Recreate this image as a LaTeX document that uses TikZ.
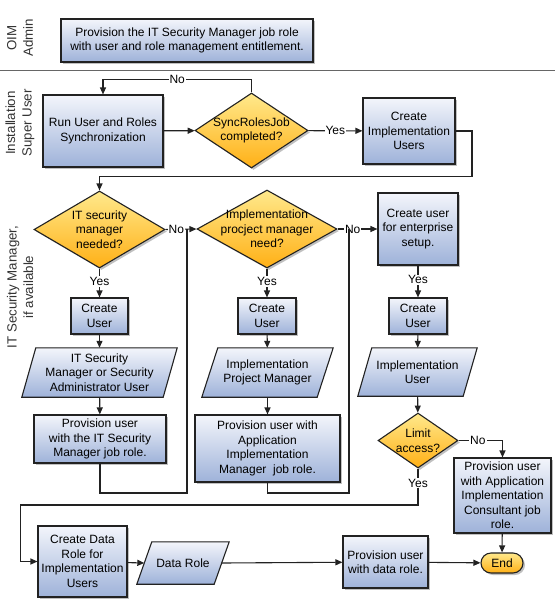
\documentclass[tikz,border=0pt]{standalone}
\usepackage{fontspec}
\setmainfont{Liberation Sans}
\usepackage{xcolor}
\usepackage{tikz}
\usetikzlibrary{arrows.meta,shapes.geometric,shadows,backgrounds}

\definecolor{boxtop}{RGB}{243,245,251}
\definecolor{boxbot}{RGB}{158,178,217}
\definecolor{diatop}{RGB}{255,233,140}
\definecolor{diabot}{RGB}{255,176,22}
\definecolor{ink}{RGB}{34,34,34}

% slanted data box behind a named node: #1 node, #2 slant
\newcommand\ioshape[2]{%
  \fill[black!55,opacity=.45,shift={(2,2)}] ([xshift=#2]#1.north west) -- (#1.north east)
    -- ([xshift=-#2]#1.south east) -- (#1.south west) -- cycle;
  \draw[ink,line width=1.1pt,top color=boxtop,bottom color=boxbot] ([xshift=#2]#1.north west)
    -- (#1.north east) -- ([xshift=-#2]#1.south east) -- (#1.south west) -- cycle;}

\begin{document}
\begin{tikzpicture}[x=1pt,y=-1pt,>={Triangle[length=7pt,width=6pt]},
  font=\fontsize{12}{14.5}\selectfont,
  conn/.style={draw=ink,line width=1.1pt},
  arr/.style={conn,->},
  shadowed/.style={drop shadow={shadow xshift=2pt,shadow yshift=-2pt,opacity=.45,fill=black!55}},
  task/.style={rectangle,draw=ink,line width=1.1pt,top color=boxtop,bottom color=boxbot,
               align=center,inner sep=0pt,shadowed},
  iobox/.style={rectangle,align=center,inner sep=0pt},
  decide/.style={diamond,draw=ink,line width=1.1pt,top color=diatop,bottom color=diabot,inner sep=0pt,shadowed},
  endbox/.style={rectangle,rounded corners=10pt,draw=ink,line width=1.1pt,top color=diatop,bottom color=diabot,
                 inner sep=0pt,shadowed},
  yn/.style={fill=white,inner sep=1pt},
  lane/.style={rotate=90,align=center,font=\fontsize{13.3}{16.5}\selectfont,text=black!80}]
  \useasboundingbox (0,0) rectangle (555,603);

  % swimlanes
  \node[lane] (laneA) at (20,38) {OIM\\Admin};
  \node[lane] (laneB) at (20,123) {Installation\\Super User};
  \node[lane] (laneC) at (20,287) {IT Security Manager,\\if available};
  \draw[black!60,line width=1pt] (0,70.5) -- (555,70.5);

  \node[task,minimum width=252,minimum height=43] (oim) at (187,40.5)
    {Provision the IT Security Manager job role\\with user and role management entitlement.};

  \node[task,minimum width=120,minimum height=72] (sync) at (103,131) {Run User and Roles\\Synchronization};
  \node[decide,minimum width=113,minimum height=75,label={[align=center]center:SyncRolesJob\\completed?}]
    (syncq) at (251.5,130.5) {};
  \node[task,minimum width=92,minimum height=66] (impl) at (409,131) {Create\\Implementation\\Users};

  % left column
  \node[decide,minimum width=131,minimum height=77,label={[align=center]center:IT security\\manager\\needed?}]
    (itq) at (99.5,229.5) {};
  \node[task,minimum width=57,minimum height=36] (user1) at (99.5,316) {Create\\User};
  \node[iobox,minimum width=155,minimum height=49] (itmgr) at (99.5,372.5)
    {IT Security\\Manager or Security\\Administrator User};
  \node[task,minimum width=132,minimum height=48] (provit) at (100,439)
    {Provision user\\with the IT Security\\Manager job role.};

  % middle column
  \node[decide,minimum width=140,minimum height=78,label={[align=center]center:Implementation\\procject manager\\need?}]
    (pmq) at (267,229) {};
  \node[task,minimum width=58,minimum height=36] (user2) at (267,316) {Create\\User};
  \node[iobox,minimum width=131,minimum height=49] (projmgr) at (267.5,372.5) {Implementation\\Project Manager};
  \node[task,minimum width=145,minimum height=67] (provmgr) at (267.5,448.5)
    {Provision user with\\Application\\Implementation\\Manager\ \ job role.};

  % right column
  \node[task,minimum width=80,minimum height=72] (ent) at (418,229) {Create user\\for enterprise\\setup.};
  \node[task,minimum width=58,minimum height=36] (user3) at (418,316) {Create\\User};
  \node[iobox,minimum width=119,minimum height=48] (impluser) at (417.5,372) {Implementation\\User};
  \node[decide,minimum width=80,minimum height=55,label={[align=center]center:Limit\\access?}]
    (limq) at (418,440.5) {};
  \node[task,minimum width=97,minimum height=75] (cons) at (502.5,495.5)
    {Provision user\\with Application\\Implementation\\Consultant job\\role.};

  % bottom row
  \node[task,minimum width=89,minimum height=71] (drole) at (82.5,561.5)
    {Create Data\\Role for\\Implementation\\Users};
  \node[iobox,minimum width=92,minimum height=42] (dr) at (183,563) {Data Role};
  \node[task,minimum width=85,minimum height=52] (provdr) at (385.5,562) {Provision user\\with data role.};
  \node[endbox,minimum width=42,minimum height=20] (end) at (502,563) {End};

  \begin{scope}[on background layer]
    \ioshape{itmgr}{14pt}
    \ioshape{projmgr}{16pt}
    \ioshape{impluser}{14pt}
    \ioshape{dr}{15pt}
  \end{scope}

  \coordinate (c1) at (472,176.5);
  \coordinate (c2) at (187,493);
  \coordinate (c3) at (349,493);
  \coordinate (c4) at (20.5,505);

  \draw[arr] (sync) -- (syncq);
  \draw[arr] (syncq.north) -- (syncq.north |- 0,79.5) -| node[pos=.25,yn] {No} (sync.north);
  \draw[arr] (syncq) -- node[yn] {Yes} (impl);
  \draw[arr] (impl.east) -| (c1) -| (itq.north);

  \draw[arr] (itq) -- node[yn,pos=.45] {Yes} (user1);
  \draw[arr] (user1) -- (itmgr);
  \draw[arr] (itmgr) -- (provit);
  \draw[arr] (itq.east) -- node[yn,pos=.35] {No} (pmq.west);
  \draw[conn] (provit.south) |- (c2) -- (c2 |- pmq.west);

  \draw[arr] (pmq) -- node[yn,pos=.45] {Yes} (user2);
  \draw[arr] (user2) -- (projmgr);
  \draw[arr] (projmgr) -- (provmgr);
  \draw[arr] (pmq.east) -- node[yn,pos=.38] {No} (ent.west);
  \draw[conn] (provmgr.south) |- (c3) -- (c3 |- pmq.east);

  \draw[arr] (ent) -- node[yn,pos=.45] {Yes} (user3);
  \draw[arr] (user3) -- (impluser);
  \draw[arr] (impluser) -- (limq);
  \draw[arr] (limq.east) -| node[pos=.22,yn] {No} (cons.north);
  \draw[arr] (limq.south) -- node[yn,pos=.4] {Yes} (limq.south |- c4) -- (c4) |- (drole.west);

  \draw[arr] (drole) -- ([xshift=7.5pt]dr.west);
  \draw[arr] ([xshift=-7.5pt]dr.east) -- (provdr);
  \draw[arr] (provdr) -- (end);
  \draw[arr] (cons) -- (end);
\end{tikzpicture}
\end{document}
